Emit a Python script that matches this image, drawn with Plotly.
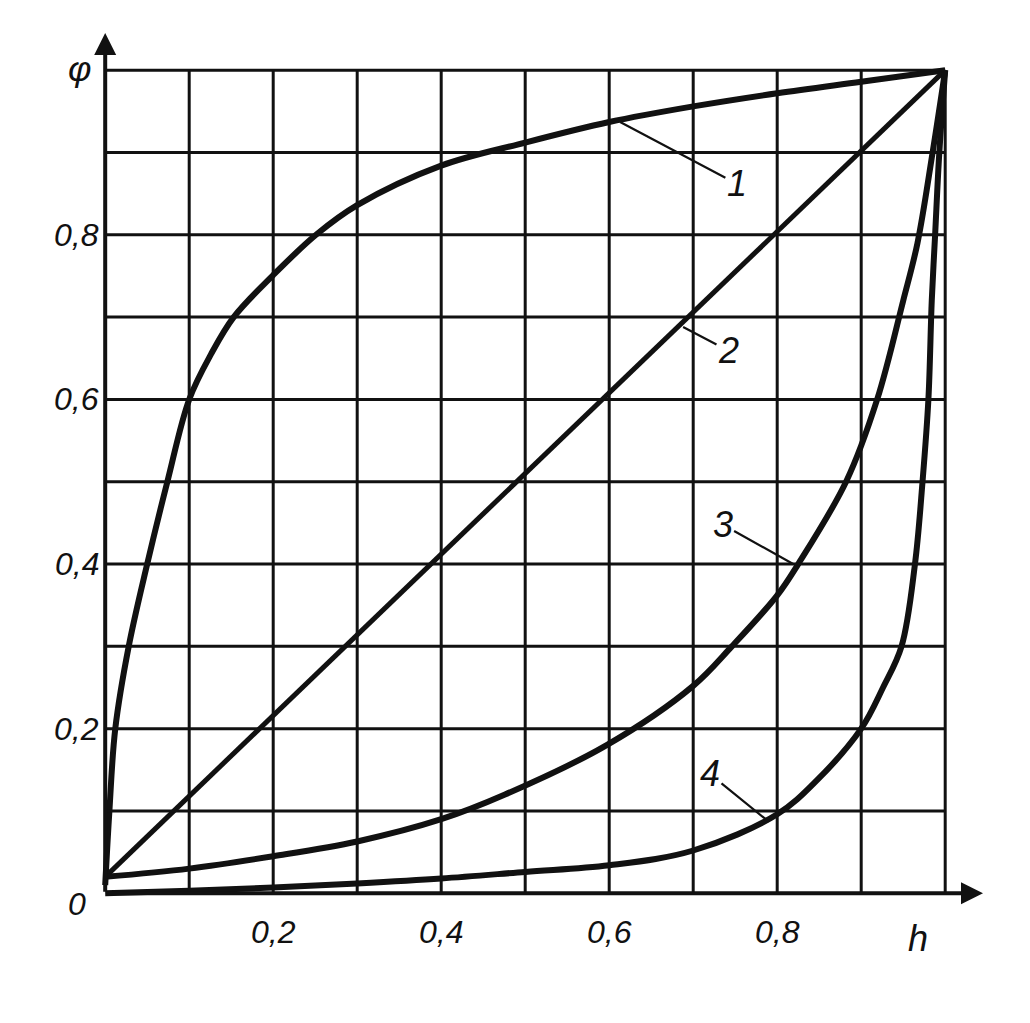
import plotly.graph_objects as go

# ---- data ----
h1 = [0.0, 0.005, 0.012, 0.028, 0.05, 0.074, 0.1, 0.126, 0.153, 0.2, 0.251, 0.3, 0.4, 0.5, 0.6, 0.7, 0.8, 0.9, 1.0]
phi1 = [0.01, 0.1, 0.2, 0.3, 0.4, 0.5, 0.6, 0.655, 0.7, 0.751, 0.8, 0.836, 0.884, 0.912, 0.937, 0.956, 0.972, 0.986, 1.0]

h2 = [0.0, 1.0]
phi2 = [0.02, 1.0]

h3 = [0.0, 0.1, 0.2, 0.3, 0.4, 0.476, 0.597, 0.7, 0.746, 0.8, 0.825, 0.882, 0.919, 0.95, 0.967, 0.985, 1.0]
phi3 = [0.02, 0.03, 0.045, 0.063, 0.09, 0.12, 0.18, 0.252, 0.3, 0.362, 0.4, 0.5, 0.6, 0.72, 0.79, 0.9, 1.0]

h4 = [0.0, 0.1, 0.2, 0.3, 0.4, 0.5, 0.6, 0.7, 0.8, 0.848, 0.9, 0.926, 0.948, 0.964, 0.973, 0.98, 0.984, 0.988, 0.993, 1.0]
phi4 = [0.0, 0.003, 0.007, 0.012, 0.018, 0.026, 0.034, 0.052, 0.096, 0.138, 0.2, 0.25, 0.3, 0.4, 0.5, 0.6, 0.72, 0.8, 0.9, 1.0]

grid_vals = [0.1, 0.2, 0.3, 0.4, 0.5, 0.6, 0.7, 0.8, 0.9, 1.0]
tick_vals = [0.2, 0.4, 0.6, 0.8]
tick_text = ["0,2", "0,4", "0,6", "0,8"]

curve_labels = ["1", "2", "3", "4"]
label_pos = [(0.752, 0.862), (0.742, 0.659), (0.735, 0.448), (0.72, 0.145)]
label_tip = [(0.613, 0.937), (0.688, 0.688), (0.819, 0.40), (0.79, 0.087)]

FONT = "Liberation Sans"
INK = "#111111"

fig = go.Figure()

shapes = []
for g in grid_vals:
    shapes.append(dict(type="line", xref="x", yref="y", x0=g, x1=g, y0=0, y1=1.0,
                       line=dict(color=INK, width=3)))
    shapes.append(dict(type="line", xref="x", yref="y", x0=0, x1=1.0, y0=g, y1=g,
                       line=dict(color=INK, width=3)))

for hx, py, w in [(h1, phi1, 6), (h2, phi2, 5), (h3, phi3, 6), (h4, phi4, 6)]:
    fig.add_trace(go.Scatter(x=hx, y=py, mode="lines",
                             line=dict(color=INK, width=w, shape="spline", smoothing=1.0),
                             showlegend=False, hoverinfo="skip"))

annotations = []
# axes with arrows
annotations.append(dict(x=1.045, y=0, ax=0, ay=0, xref="x", yref="y", axref="x", ayref="y",
                        showarrow=True, arrowhead=2, arrowsize=1.1, arrowwidth=4, arrowcolor=INK, text=""))
annotations.append(dict(x=0, y=1.045, ax=0, ay=0, xref="x", yref="y", axref="x", ayref="y",
                        showarrow=True, arrowhead=2, arrowsize=1.1, arrowwidth=4, arrowcolor=INK, text=""))

tfont = dict(family=FONT, size=32, color=INK, style="italic")
lfont = dict(family=FONT, size=36, color=INK, style="italic")
for v, t in zip(tick_vals, tick_text):
    annotations.append(dict(x=v, y=0, xref="x", yref="y", text=t, showarrow=False,
                            xanchor="center", yanchor="middle", yshift=-39, font=tfont))
    annotations.append(dict(x=0, y=v, xref="x", yref="y", text=t, showarrow=False,
                            xanchor="right", yanchor="middle", xshift=-4, font=tfont))
annotations.append(dict(x=0, y=0, xref="x", yref="y", text="0", showarrow=False,
                        xanchor="center", yanchor="middle", xshift=-28, yshift=-11, font=tfont))
annotations.append(dict(x=0, y=1.0, xref="x", yref="y", text="φ", showarrow=False,
                        xanchor="center", yanchor="middle", xshift=-26, yshift=2, font=lfont))
annotations.append(dict(x=1.0, y=0, xref="x", yref="y", text="h", showarrow=False,
                        xanchor="center", yanchor="middle", xshift=-27, yshift=-45, font=lfont))

for lab, (lx, ly), (tx, ty) in zip(curve_labels, label_pos, label_tip):
    annotations.append(dict(x=tx, y=ty, ax=lx, ay=ly, xref="x", yref="y", axref="x", ayref="y",
                            text=lab, showarrow=True, arrowhead=0, arrowwidth=2.2, arrowcolor=INK,
                            standoff=0, font=lfont))

# page body has an 8px default margin, so the margins are reduced by 8px
fig.update_layout(
    width=1030, height=1023,
    margin=dict(l=72, r=55, t=21, b=113, autoexpand=False),
    paper_bgcolor="white", plot_bgcolor="white",
    xaxis=dict(range=[-0.03, 1.045], showgrid=False, zeroline=False, showticklabels=False,
               showline=False, ticks=""),
    yaxis=dict(range=[-0.03, 1.05], showgrid=False, zeroline=False, showticklabels=False,
               showline=False, ticks=""),
    shapes=shapes,
    annotations=annotations,
)

fig.write_html("out.html")
